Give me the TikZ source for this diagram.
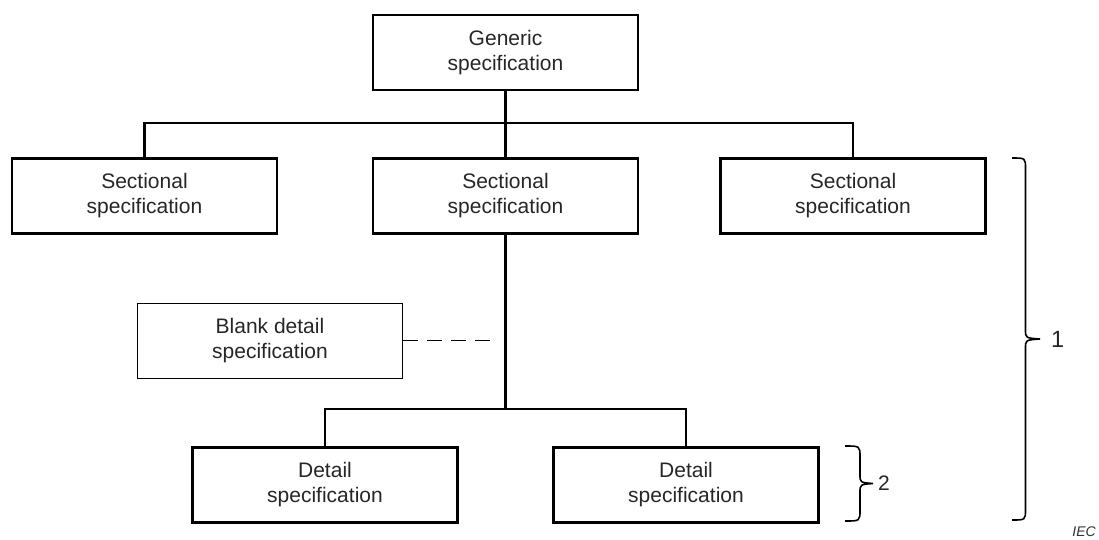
\documentclass[tikz,border=0pt]{standalone}
\usepackage{fontspec}
\setmainfont{Liberation Sans}
\newcommand\curlybrace[6]{% left x, stem x, tip x, top y, tip y, bottom y
  \draw[bracestyle] (#1,#4) .. controls (#2,#4) .. (#2,#4+11)
    -- (#2,#5-9) .. controls (#2,#5-1) .. (#3,#5)
    .. controls (#2,#5+1) .. (#2,#5+9)
    -- (#2,#6-11) .. controls (#2,#6) .. (#1,#6);}
\begin{document}
\begin{tikzpicture}[x=1pt,y=-1pt,
  spec/.style={draw=black, line width=2.4pt, minimum width=265pt, minimum height=75pt, align=center, inner sep=0pt, font=\fontsize{21}{25}\selectfont, text=black!85},
  thinspec/.style={spec, line width=1pt},
  conn/.style={line width=2.4pt},
  dashconn/.style={line width=1.1pt, dash pattern=on 15pt off 9pt},
  bracestyle/.style={line width=1.6pt},
  lbl/.style={text=black!85, inner sep=0pt}
]
\useasboundingbox (0,0) rectangle (1099,539);
\node[spec] (gen) at (505.5,52.5) {Generic\\specification};
\node[spec] (s1) at (144.5,196) {Sectional\\specification};
\node[spec] (s2) at (505.5,196) {Sectional\\specification};
\node[spec] (s3) at (853,196) {Sectional\\specification};
\node[thinspec] (blank) at (270,340.5) {Blank detail\\specification};
\node[spec] (d1) at (325,485) {Detail\\specification};
\node[spec] (d2) at (686,485) {Detail\\specification};
\coordinate (bar) at (505.5,123);
\coordinate (split) at (505.5,409);
\coordinate (dashend) at (497,340.5);
\draw[conn] (gen.south) -- (s2.north);
\draw[conn] (s1.north) |- (bar) -| (s3.north);
\draw[conn] (s2.south) -- (split);
\draw[conn] (d1.north) |- (split) -| (d2.north);
\draw[dashconn] (blank.east) -- (dashend);
\curlybrace{1012}{1025.5}{1040}{158}{339}{520}
\curlybrace{845}{860}{873}{446}{483.5}{521}
\node[lbl, font=\fontsize{23.5}{26}\selectfont, anchor=west] (one) at (1051,339) {1};
\node[lbl, font=\fontsize{21}{25}\selectfont, anchor=west] (two) at (878,483.5) {2};
\node[font=\itshape\fontsize{14}{15}\selectfont, text=black!80, anchor=base east, inner sep=0pt] (iec) at (1096,536) {IEC};
\end{tikzpicture}
\end{document}
